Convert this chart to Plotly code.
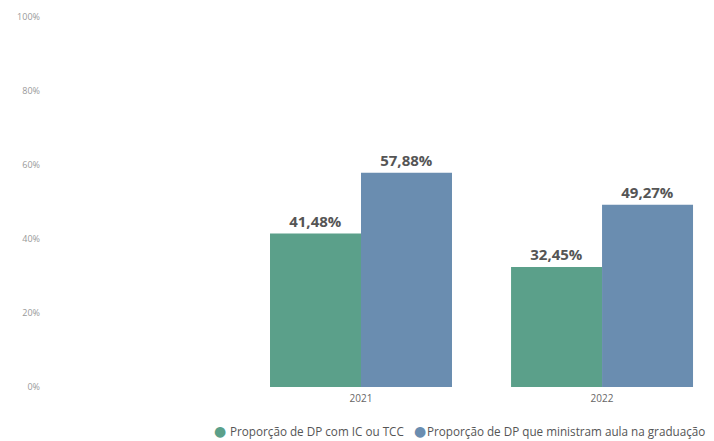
import plotly.graph_objects as go

# Years shown on the category axis
years = ["2021", "2022"]

# Series values (percent)
ic_tcc = [41.48, 32.45]
graduacao = [57.88, 49.27]

series_names = [
    "Proporção de DP com IC ou TCC",
    "Proporção de DP que ministram aula na graduação",
]
series_colors = ["#5ba08a", "#6a8db0"]

y_ticks = [0, 20, 40, 60, 80, 100]
y_tick_text = [f"{v}%" for v in y_ticks]

FONT = "Open Sans, Segoe UI, sans-serif"

fig = go.Figure()

for name, values, color in zip(series_names, [ic_tcc, graduacao], series_colors):
    fig.add_trace(go.Bar(
        x=years,
        y=values,
        name=name,
        marker=dict(color=color, line=dict(width=0)),
        texttemplate="%{y:.2f}%",
        textposition="outside",
        textfont=dict(family=FONT, size=15, color="#555555", weight="bold"),
        cliponaxis=False,
        showlegend=False,
    ))

# Compact legend under the plot: a coloured dot followed by each series name
legend_dot_x = [0.2656, 0.5690]
legend_text_x = [0.2777, 0.5766]
legend_y = -0.118
for name, color, dx, tx in zip(series_names, series_colors, legend_dot_x, legend_text_x):
    fig.add_annotation(
        text="●", xref="paper", yref="paper", x=dx, y=legend_y,
        xanchor="center", yanchor="middle", showarrow=False,
        font=dict(family="DejaVu Sans", size=14, color=color),
    )
    fig.add_annotation(
        text=name, xref="paper", yref="paper", x=tx, y=legend_y,
        xanchor="left", yanchor="middle", showarrow=False,
        font=dict(family=FONT, size=11.7, color="#555555"),
    )

fig.update_layout(
    width=714,
    height=441,
    margin=dict(l=45, r=10, t=15, b=54),
    paper_bgcolor="white",
    plot_bgcolor="white",
    separators=",.",
    barmode="group",
    bargap=0.245,
    bargroupgap=0,
    showlegend=False,
    font=dict(family=FONT, color="#777777"),
    xaxis=dict(
        type="category",
        range=[-1.311, 1.423],
        showgrid=False,
        zeroline=False,
        showline=False,
        ticks="",
        ticklabelstandoff=4,
        tickfont=dict(size=10, color="#666666"),
    ),
    yaxis=dict(
        range=[0, 100],
        tickmode="array",
        tickvals=y_ticks,
        ticktext=y_tick_text,
        showgrid=False,
        zeroline=False,
        showline=False,
        ticks="",
        ticklabelstandoff=4,
        tickfont=dict(size=9, color="#999999"),
    ),
)

fig.write_html("out.html")
